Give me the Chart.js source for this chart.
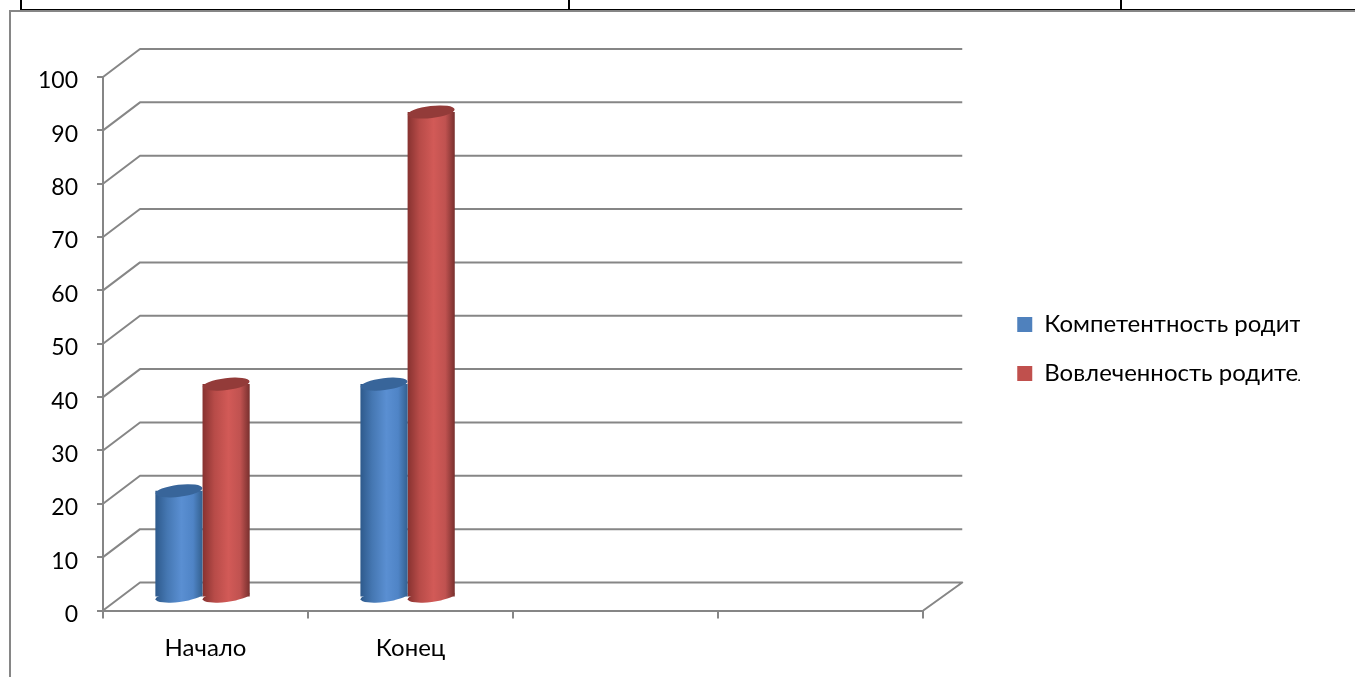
<!DOCTYPE html>
<html>
<head>
<meta charset="utf-8">
<script src="https://cdn.jsdelivr.net/npm/chart.js@4"></script>
<style>
html, body { margin: 0; padding: 0; background: #fff; overflow: hidden; }
#page { position: relative; width: 1355px; height: 677px; }
canvas { position: absolute; left: 0; top: 0; }
.black { position: absolute; background: #000; }
.grey { position: absolute; background: #868686; }
</style>
</head>
<body>
<div id="page">
    <div class="black" style="left:20px;top:0;width:2px;height:10px"></div>
    <div class="black" style="left:568px;top:0;width:2px;height:10px"></div>
    <div class="black" style="left:1120px;top:0;width:2px;height:10px"></div>
    <div class="black" style="left:20px;top:9px;width:1335px;height:1px"></div>
    <div class="grey" style="left:9px;top:10px;width:1346px;height:2px"></div>
    <div class="grey" style="left:9px;top:10px;width:2px;height:667px"></div>
    <canvas id="myChart" width="1355" height="677"></canvas>
</div>
<script>
const categories = ["Начало", "Конец", "", ""];
const competence = [20, 40, null, null];
const involvement = [40, 91, null, null];
const seriesNames = ["Компетентность родителей", "Вовлеченность родителей"];
const yMax = 100;
const yStep = 10;

const fontName = "Lato";
const lineColor = "#868686";
const shades = [
    { fill: "#4f81bd", stops: ["#2e5a8c", "#4577b2", "#5a8fd2", "#4f84c6", "#33608f"], cap: "#38659a" },
    { fill: "#c0504d", stops: ["#873230", "#b74b48", "#d25a57", "#c05250", "#78302e"], cap: "#933b39" }
];

// walls of the 3D box, offset from the front axes
const wallDx = 37;
const wallDy = -28;
// the cylinders stand a bit behind the front axis
const barDx = -3;
const barDy = -13;
const capTilt = -0.12;

function Ellipse(ctx, el, y, ry, style)
{
    ctx.beginPath();
    ctx.ellipse(el.x, y, el.width / 2, ry, capTilt, 0, Math.PI * 2);
    ctx.fillStyle = style;
    ctx.fill();
}

function HasValue(chart, datasetIndex, i)
{
    return chart.data.datasets[datasetIndex].data[i] !== null;
}

const cylinderPlugin = {
    id: "cylinder",
    afterLayout(chart)
    {
        // legend sits away from the plot and above the middle
        chart.legend.left += 69;
        chart.legend.right += 69;
        chart.legend.top -= 28;
        chart.legend.bottom -= 28;
    },
    beforeDatasetsDraw(chart)
    {
        const ctx = chart.ctx;
        const y = chart.scales.y;
        const area = chart.chartArea;
        ctx.save();
        ctx.strokeStyle = lineColor;
        ctx.lineWidth = 2;
        ctx.lineJoin = "round";
        y.ticks.forEach(tick =>
        {
            const py = y.getPixelForValue(tick.value);
            ctx.beginPath();
            ctx.moveTo(area.left, py);
            ctx.lineTo(area.left + wallDx, py + wallDy);
            ctx.lineTo(area.right + wallDx + 2, py + wallDy);
            if (tick.value === 0)
            {
                ctx.lineTo(area.right, py);
            }
            ctx.stroke();
        });
        ctx.restore();
        ctx.save();
        ctx.translate(barDx, barDy);
    },
    afterDatasetsDraw(chart)
    {
        chart.ctx.restore();
    },
    beforeDatasetDraw(chart, args)
    {
        const ctx = chart.ctx;
        const shade = shades[args.index];
        args.meta.data.forEach((el, i) =>
        {
            if (!HasValue(chart, args.index, i))
            {
                return;
            }
            const left = el.x - el.width / 2;
            const grad = ctx.createLinearGradient(left, 0, left + el.width, 0);
            [0, 0.25, 0.55, 0.8, 1].forEach((pos, n) => grad.addColorStop(pos, shade.stops[n]));
            el.options = Object.assign({}, el.options, { backgroundColor: grad });
            Ellipse(ctx, el, el.base, 5.5, grad);
        });
    },
    afterDatasetDraw(chart, args)
    {
        const ctx = chart.ctx;
        const shade = shades[args.index];
        args.meta.data.forEach((el, i) =>
        {
            if (HasValue(chart, args.index, i))
            {
                Ellipse(ctx, el, el.y, 6, shade.cap);
            }
        });
    }
};

new Chart(document.getElementById("myChart"), {
    type: "bar",
    data: {
        labels: categories,
        datasets: [
            { label: seriesNames[0], data: competence, backgroundColor: shades[0].fill },
            { label: seriesNames[1], data: involvement, backgroundColor: shades[1].fill }
        ]
    },
    options: {
        responsive: false,
        animation: false,
        layout: {
            padding: { left: 0, top: 77, right: 124, bottom: 0 }
        },
        datasets: {
            bar: {
                barPercentage: 1,
                categoryPercentage: 0.46,
                borderWidth: 0
            }
        },
        plugins: {
            tooltip: { enabled: false },
            legend: {
                position: "right",
                labels: {
                    color: "#000",
                    boxWidth: 15,
                    boxHeight: 15,
                    padding: 25,
                    font: { family: fontName, size: 24 }
                }
            }
        },
        scales: {
            x: {
                border: { color: lineColor, width: 2 },
                grid: { drawOnChartArea: false, color: lineColor, lineWidth: 2, tickLength: 8 },
                ticks: {
                    color: "#000",
                    padding: 15,
                    maxRotation: 0,
                    autoSkip: false,
                    font: { family: fontName, size: 24 }
                },
                afterFit: scale => { scale.height = 66.5; }
            },
            y: {
                min: 0,
                max: yMax,
                border: { color: lineColor, width: 2 },
                grid: { drawOnChartArea: false, color: lineColor, lineWidth: 2, tickLength: 6 },
                ticks: {
                    stepSize: yStep,
                    color: "#000",
                    padding: 19,
                    labelOffset: 4,
                    font: { family: fontName, size: 23 }
                },
                afterFit: scale => { scale.width = 103; }
            }
        }
    },
    plugins: [cylinderPlugin]
});
</script>
</body>
</html>
